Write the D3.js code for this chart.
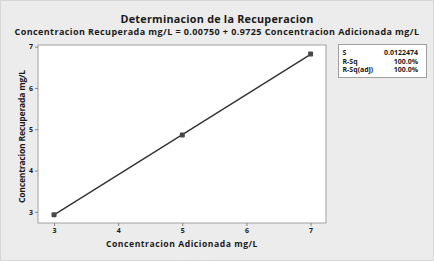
<!DOCTYPE html>
<html>
<head>
<meta charset="utf-8">
<script src="https://cdn.jsdelivr.net/npm/d3@7"></script>
<style>
  body { margin: 0; background: #fff; }
  svg { display: block; }
  text { font-family: "Open Sans", "DejaVu Sans", sans-serif; font-weight: bold; fill: #1a1a1a; }
</style>
</head>
<body>
<div id="chart"></div>
<script>
// data
var xValues = [3, 5, 7];
var yValues = [2.93, 4.86, 6.82];
var xTicks = [3, 4, 5, 6, 7];
var yTicks = [3, 4, 5, 6, 7];
var fitIntercept = 0.00750;
var fitSlope = 0.9725;
var statLabels = ["S", "R-Sq", "R-Sq(adj)"];
var statValues = ["0.0122474", "100.0%", "100.0%"];

var w = 434, h = 261;
var margin = { top: 45, right: 108, bottom: 38, left: 38 };
var width = w - margin.left - margin.right;
var height = h - margin.top - margin.bottom;

var root = d3.select("#chart").append("svg")
    .attr("width", w)
    .attr("height", h);

// background + dotted frame
root.append("rect")
    .attr("x", 0.5).attr("y", 0.5)
    .attr("width", w - 1).attr("height", h - 1)
    .attr("fill", "#ececec")
    .attr("stroke", "#b8b8b8")
    .attr("stroke-dasharray", "1,1");

// spread letters so the text spans the target width
function spreadText(sel, target) {
    var len = sel.node().getComputedTextLength();
    var n = sel.text().length;
    sel.attr("letter-spacing", (target - len) / n);
}

var title = root.append("text")
    .attr("x", 217).attr("y", 22.5)
    .attr("text-anchor", "middle")
    .attr("font-size", 10.8)
    .text("Determinacion de la Recuperacion");
spreadText(title, 193);

var subtitle = root.append("text")
    .attr("x", 217).attr("y", 34.5)
    .attr("text-anchor", "middle")
    .attr("font-size", 9)
    .text("Concentracion Recuperada mg/L = 0.00750 + 0.9725 Concentracion Adicionada mg/L");
spreadText(subtitle, 405);

var svg = root.append("g")
    .attr("transform", `translate(${margin.left},${margin.top})`);

var xScale = d3.scaleLinear().domain([2.75, 7.24]).range([0, width]);
var yScale = d3.scaleLinear().domain([2.73, 7.04]).range([height, 0]);

svg.append("rect")
    .attr("width", width).attr("height", height)
    .attr("fill", "#fff")
    .attr("stroke", "#a0a0a0");

// axes
var xAxis = svg.append("g")
    .attr("transform", `translate(0,${height})`)
    .call(d3.axisBottom(xScale).tickValues(xTicks).tickSize(3).tickPadding(2).tickFormat(d3.format("d")));
var yAxis = svg.append("g")
    .call(d3.axisLeft(yScale).tickValues(yTicks).tickSize(3).tickPadding(2).tickFormat(d3.format("d")));

[xAxis, yAxis].forEach(function (a) {
    a.select(".domain").remove();
    a.selectAll("line").attr("stroke", "#888");
    a.selectAll("text").attr("font-size", 7).attr("fill", "#1a1a1a")
        .style("font-family", "'Open Sans', sans-serif").style("font-weight", "bold");
});

// axis labels
var xl = root.append("text")
    .attr("x", 182).attr("y", 247)
    .attr("text-anchor", "middle")
    .attr("font-size", 8.6)
    .text("Concentracion Adicionada mg/L");
spreadText(xl, 152);

var yl = root.append("text")
    .attr("transform", "translate(25,136.5) rotate(-90)")
    .attr("text-anchor", "middle")
    .attr("font-size", 8.6)
    .text("Concentracion Recuperada mg/L");
spreadText(yl, 133);

// fitted line
var x0 = d3.min(xValues), x1 = d3.max(xValues);
svg.append("line")
    .attr("x1", xScale(x0)).attr("y1", yScale(fitIntercept + fitSlope * x0))
    .attr("x2", xScale(x1)).attr("y2", yScale(fitIntercept + fitSlope * x1))
    .attr("stroke", "#333")
    .attr("stroke-width", 1.4);

// observed points
svg.selectAll(".pt")
    .data(xValues.map((x, i) => ({ x: x, y: yValues[i] })))
    .enter().append("rect")
    .attr("class", "pt")
    .attr("x", d => xScale(d.x) - 2.5)
    .attr("y", d => yScale(d.y) - 2.5)
    .attr("width", 5).attr("height", 5)
    .attr("rx", 1)
    .attr("fill", "#484848");

// stats box
var box = root.append("g").attr("transform", "translate(338.5,44.5)");
box.append("rect")
    .attr("width", 88).attr("height", 33)
    .attr("fill", "#fff")
    .attr("stroke", "#a0a0a0");
statLabels.forEach(function (lab, i) {
    box.append("text")
        .attr("x", 4).attr("y", 10.8 + i * 8.4)
        .attr("font-size", 7)
        .text(lab);
    box.append("text")
        .attr("x", 79.5).attr("y", 10.8 + i * 8.4)
        .attr("text-anchor", "end")
        .attr("font-size", 7)
        .text(statValues[i]);
});
</script>
</body>
</html>
